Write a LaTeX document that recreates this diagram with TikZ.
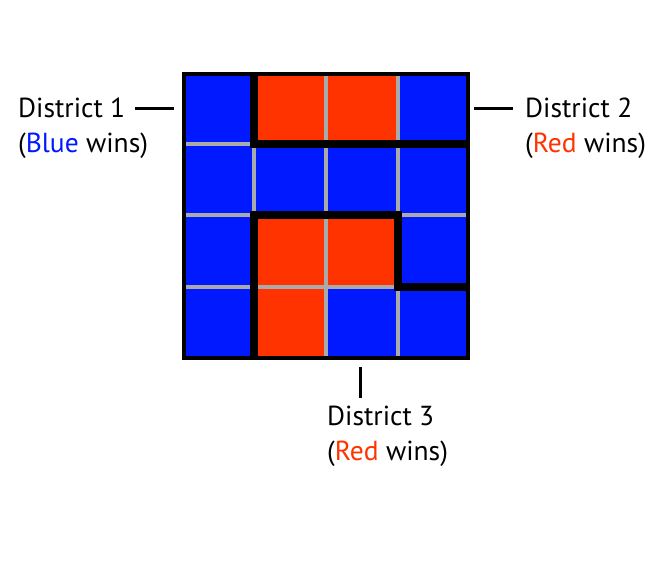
\documentclass[tikz,border=0pt]{standalone}
\usepackage{fontspec}
\setmainfont{PT Sans}
\definecolor{cblue}{HTML}{0019FF}
\definecolor{cred}{HTML}{FF3300}
\definecolor{cgray}{HTML}{AAAAAA}
\begin{document}
\begin{tikzpicture}[x=1pt,y=-1pt,
  bluecell/.style={fill=cblue},
  redcell/.style={fill=cred},
  gridline/.style={draw=cgray,line width=4pt},
  border/.style={draw=black,line width=4pt},
  districtline/.style={draw=black,line width=8pt,line cap=butt,line join=miter},
  leader/.style={draw=black,line width=3pt},
  lbl/.style={inner sep=0pt,anchor=base west,font=\fontsize{27.5}{34}\selectfont}]
\useasboundingbox[fill=white] (0,0) rectangle (660,560);
% cells
\def\xa{184}\def\xb{254}\def\xc{326}\def\xd{398}\def\xe{468}
\def\ya{74}\def\yb{144}\def\yc{215}\def\yd{287}\def\ye{358}
% row 1
\path[bluecell] (\xa,\ya) rectangle (\xb,\yb);
\path[redcell]  (\xb,\ya) rectangle (\xc,\yb);
\path[redcell]  (\xc,\ya) rectangle (\xd,\yb);
\path[bluecell] (\xd,\ya) rectangle (\xe,\yb);
% row 2
\path[bluecell] (\xa,\yb) rectangle (\xe,\yc);
% row 3
\path[bluecell] (\xa,\yc) rectangle (\xb,\yd);
\path[redcell]  (\xb,\yc) rectangle (\xd,\yd);
\path[bluecell] (\xd,\yc) rectangle (\xe,\yd);
% row 4
\path[bluecell] (\xa,\yd) rectangle (\xb,\ye);
\path[redcell]  (\xb,\yd) rectangle (\xc,\ye);
\path[bluecell] (\xc,\yd) rectangle (\xe,\ye);
% grid lines
\foreach \gx in {\xb,\xc,\xd} \draw[gridline] (\gx,\ya) -- (\gx,\ye);
\foreach \gy in {\yb,\yc,\yd} \draw[gridline] (\xa,\gy) -- (\xe,\gy);
% district boundaries
\draw[districtline] (\xb,\ya) -- (\xb,\yb) -- (\xe,\yb);
\draw[districtline] (\xb,\ye) -- (\xb,\yc) -- (\xd,\yc) -- (\xd,\yd) -- (\xe,\yd);
\draw[border] (\xa,\ya) rectangle (\xe,\ye);
% labels
\node[lbl] (d1) at (18,117) {District 1};
\node[lbl] (d1w) at (18,152) {(\textcolor{cblue}{Blue} wins)};
\node[lbl] (d2) at (525,117) {District 2};
\node[lbl] (d2w) at (525,152) {(\textcolor{cred}{Red} wins)};
\node[lbl] (d3) at (327,425) {District 3};
\node[lbl] (d3w) at (327,460) {(\textcolor{cred}{Red} wins)};
% leaders
\coordinate (l1a) at (135,108.5); \coordinate (l1b) at (174,108.5);
\coordinate (l2a) at (474,108); \coordinate (l2b) at (513,108);
\coordinate (l3a) at (360,367); \coordinate (l3b) at (360,398);
\draw[leader] (l1a) -- (l1b);
\draw[leader] (l2a) -- (l2b);
\draw[leader] (l3a) -- (l3b);
\end{tikzpicture}
\end{document}
